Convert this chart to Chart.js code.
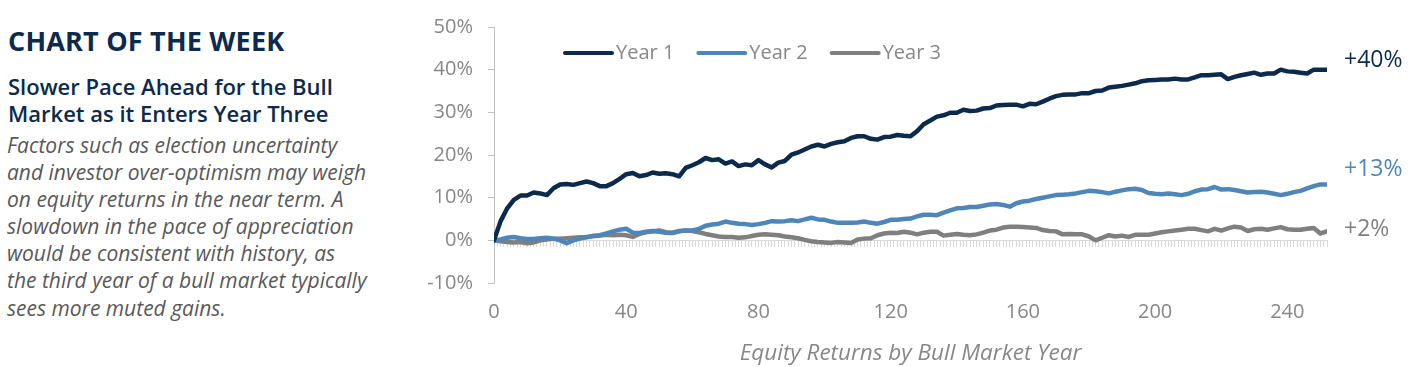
<!DOCTYPE html>
<html>
<head>
<meta charset="utf-8">
<script src="https://cdn.jsdelivr.net/npm/chart.js@4.4.1/dist/chart.umd.min.js"></script>
<style>
html,body{margin:0;padding:0;background:#fff;width:1413px;height:367px;overflow:hidden;}
#left{position:absolute;left:8px;top:0;width:392px;height:367px;}
.t1{position:absolute;left:0;top:25px;font:700 27px/32px 'Open Sans';color:#0c2a4c;white-space:nowrap;letter-spacing:0.2px;}
.t2{position:absolute;left:0;top:73px;font:600 22px/27px 'Open Sans';color:#0c2a4c;white-space:nowrap;}
.t3{position:absolute;left:-1px;top:132px;font:italic 400 21px/27.1px 'Open Sans';color:#595959;white-space:nowrap;}
#wrap{position:absolute;left:400px;top:0;width:1013px;height:367px;}
</style>
</head>
<body>
<div id="left">
  <div class="t1">CHART OF THE WEEK</div>
  <div class="t2">Slower Pace Ahead for the Bull<br>Market as it Enters Year Three</div>
  <div class="t3">Factors such as election uncertainty<br>and investor over-optimism may weigh<br>on equity returns in the near term. A<br>slowdown in the pace of appreciation<br>would be consistent with history, as<br>the third year of a bull market typically<br>sees more muted gains.</div>
</div>
<div id="wrap"><canvas id="c" width="1013" height="367"></canvas></div>
<script>
// Trading days since start of each bull-market year (sampled every 2 days)
const seriesLabels = ['Year 1', 'Year 2', 'Year 3'];
const xTitle = 'Equity Returns by Bull Market Year';

const year1 = [
  0, 4.5, 7.5, 9.5, 10.5, 10.5, 11.2, 11.0, 10.6, 12.2,
  13.1, 13.2, 13.0, 13.4, 13.8, 13.4, 12.7, 12.7, 13.4, 14.4,
  15.5, 15.8, 15.0, 15.3, 15.9, 15.6, 15.7, 15.5, 15.0, 17.0,
  17.6, 18.3, 19.3, 18.8, 19.0, 18.0, 18.5, 17.4, 17.8, 17.6,
  18.8, 17.8, 17.1, 18.2, 18.6, 20.1, 20.6, 21.3, 22.0, 22.4,
  22.0, 22.6, 23.0, 23.2, 24.0, 24.4, 24.4, 23.8, 23.6, 24.2,
  24.3, 24.7, 24.5, 24.4, 25.6, 27.2, 28.1, 29.0, 29.3, 29.9,
  29.9, 30.6, 30.3, 30.4, 30.9, 31.0, 31.6, 31.7, 31.8, 31.8,
  31.4, 32.0, 31.9, 32.5, 33.2, 33.8, 34.1, 34.2, 34.2, 34.5,
  34.5, 35.0, 35.1, 35.8, 36.0, 36.2, 36.5, 36.8, 37.3, 37.5,
  37.6, 37.7, 37.7, 37.9, 37.7, 37.7, 38.2, 38.7, 38.7, 38.8,
  38.9, 37.8, 38.3, 38.7, 39.0, 39.3, 38.8, 39.1, 39.1, 40.0,
  39.6, 39.5, 39.3, 39.1, 40.0, 40.0, 40.0
];
const year2 = [
  0, 0.2, 0.6, 0.8, 0.5, 0.3, 0.3, 0.5, 0.6, 0.4,
  0.0, -0.7, 0.0, 0.4, 0.7, 1.0, 1.2, 1.6, 2.1, 2.5,
  2.7, 1.8, 1.7, 2.0, 2.2, 2.0, 1.8, 1.7, 2.1, 2.3,
  2.3, 2.7, 3.4, 3.7, 3.9, 4.4, 4.1, 3.9, 3.8, 3.6,
  3.8, 4.1, 4.5, 4.4, 4.5, 4.7, 4.5, 4.9, 5.3, 4.9,
  4.8, 4.4, 4.1, 4.1, 4.1, 4.2, 4.4, 4.1, 3.9, 4.3,
  4.8, 4.8, 5.0, 5.1, 5.6, 6.0, 6.0, 5.9, 6.5, 7.0,
  7.5, 7.6, 7.8, 7.8, 8.1, 8.4, 8.5, 8.3, 7.9, 8.7,
  9.1, 9.3, 9.7, 10.0, 10.3, 10.6, 10.7, 10.8, 11.0, 11.3,
  11.6, 11.5, 11.3, 11.0, 11.4, 11.7, 12.0, 12.1, 11.8, 11.1,
  10.9, 10.8, 11.0, 10.8, 10.6, 10.9, 11.5, 11.9, 12.0, 12.5,
  11.9, 12.0, 11.8, 11.5, 11.2, 11.3, 11.4, 11.2, 10.9, 10.6,
  10.9, 11.3, 11.6, 12.2, 12.7, 13.1, 13.1
];
const year3 = [
  0, -0.2, -0.4, -0.5, -0.4, -0.7, -0.5, 0.0, 0.2, 0.4,
  0.4, 0.5, 0.6, 0.7, 0.8, 1.0, 1.1, 1.3, 1.2, 1.3,
  1.2, 0.8, 1.5, 1.9, 2.1, 2.3, 1.9, 1.8, 2.2, 2.3,
  2.2, 1.9, 1.5, 1.2, 0.9, 0.8, 0.8, 0.6, 0.7, 1.0,
  1.3, 1.4, 1.3, 1.2, 0.9, 0.7, 0.5, 0.1, -0.2, -0.4,
  -0.5, -0.6, -0.4, -0.5, -0.6, 0.2, 0.4, 0.5, 1.2, 1.6,
  1.8, 1.7, 2.0, 1.8, 1.4, 1.8, 2.0, 2.0, 1.1, 1.3,
  1.5, 1.3, 1.2, 1.4, 1.8, 2.3, 2.5, 3.0, 3.2, 3.2,
  3.1, 3.0, 2.9, 2.4, 2.2, 2.1, 1.4, 1.5, 1.4, 1.4,
  0.9, 0.0, 0.6, 1.2, 0.9, 1.1, 0.8, 1.3, 1.3, 1.3,
  1.6, 1.9, 2.1, 2.3, 2.5, 2.7, 2.7, 2.4, 2.1, 2.7,
  2.3, 2.8, 3.2, 3.0, 2.2, 2.6, 2.7, 2.5, 2.8, 3.1,
  2.6, 2.5, 2.5, 2.7, 2.9, 1.6, 2.1
];
const days = year1.map((_, i) => i * 2);
const yTicks = [-10, 0, 10, 20, 30, 40, 50];
const xTickLabels = [0, 40, 80, 120, 160, 200, 240];

const colors = ['#0c2a4c', '#4f86ba', '#7f7f7f'];
const labelGray = '#878787';

const toPts = arr => arr.map((v, i) => ({x: days[i], y: v}));

const legendPlugin = {
  id: 'customLegend',
  afterDraw(chart) {
    const ctx = chart.ctx;
    ctx.save();
    ctx.font = '20px "Open Sans"';
    ctx.textBaseline = 'middle';
    let x = chart.chartArea.left + 69;
    const y = 53;
    chart.data.datasets.forEach(ds => {
      ctx.strokeStyle = ds.borderColor;
      ctx.lineWidth = 4;
      ctx.lineCap = 'round';
      ctx.beginPath();
      ctx.moveTo(x + 2, y);
      ctx.lineTo(x + 49, y);
      ctx.stroke();
      ctx.fillStyle = labelGray;
      ctx.fillText(ds.label, x + 53, y);
      x += 53 + ctx.measureText(ds.label).width + 22;
    });
    ctx.restore();
  }
};

const endLabelOffsets = [-9, -15, -2];
const endLabelPlugin = {
  id: 'endLabels',
  afterDraw(chart) {
    const ctx = chart.ctx;
    ctx.save();
    ctx.font = '23px "Open Sans"';
    ctx.textBaseline = 'middle';
    ctx.textAlign = 'left';
    chart.data.datasets.forEach((ds, i) => {
      const meta = chart.getDatasetMeta(i);
      const lastPt = meta.data[meta.data.length - 1];
      const lastVal = ds.data[ds.data.length - 1].y;
      ctx.fillStyle = ds.borderColor;
      ctx.fillText('+' + Math.round(lastVal) + '%', chart.chartArea.right + 17, lastPt.y + endLabelOffsets[i]);
    });
    ctx.restore();
  }
};

Chart.defaults.font.family = "'Open Sans', sans-serif";

new Chart(document.getElementById('c'), {
  type: 'line',
  data: {
    datasets: [
      {label: seriesLabels[0], data: toPts(year1), borderColor: colors[0]},
      {label: seriesLabels[1], data: toPts(year2), borderColor: colors[1]},
      {label: seriesLabels[2], data: toPts(year3), borderColor: colors[2]}
    ].map(d => Object.assign(d, {borderWidth: 4.5, pointRadius: 0, fill: false, tension: 0,
                                  borderJoinStyle: 'round', borderCapStyle: 'round', xAxisID: 'x', yAxisID: 'y'}))
  },
  options: {
    responsive: false,
    animation: false,
    layout: {padding: {top: 24, right: 86, left: 0, bottom: 0}},
    plugins: {legend: {display: false}, tooltip: {enabled: false}},
    scales: {
      x: {
        type: 'linear', position: 'bottom', min: 0, max: days[days.length - 1],
        afterBuildTicks: s => { s.ticks = xTickLabels.map(v => ({value: v})); },
        ticks: {color: labelGray, font: {size: 20}, padding: 17, maxRotation: 0, autoSkip: false},
        grid: {display: false, drawTicks: false},
        border: {display: false},
        title: {display: true, text: xTitle, color: labelGray,
                font: {size: 22.5, style: 'italic'}, padding: {top: 0, bottom: 0}},
        afterFit: s => { s.height = 84; }
      },
      xz: {
        type: 'linear', axis: 'x', position: {y: 0}, min: 0, max: days[days.length - 1],
        ticks: {display: false, stepSize: 1, maxTicksLimit: 400, autoSkip: false},
        grid: {display: true, drawOnChartArea: false, drawTicks: true, tickLength: 6, color: '#d9d9d9', lineWidth: 1},
        border: {display: true, color: '#d9d9d9', width: 1}
      },
      y: {
        min: -10, max: 50, position: 'left',
        afterBuildTicks: s => { s.ticks = yTicks.map(v => ({value: v})); },
        ticks: {callback: v => v + '%', color: labelGray, font: {size: 20}, padding: 15},
        grid: {drawOnChartArea: false, drawTicks: true, tickLength: 6, color: '#bfbfbf'},
        border: {display: true, color: '#bfbfbf', width: 1},
        afterFit: s => { s.width = 94; }
      }
    }
  },
  plugins: [legendPlugin, endLabelPlugin]
});
</script>
</body>
</html>
